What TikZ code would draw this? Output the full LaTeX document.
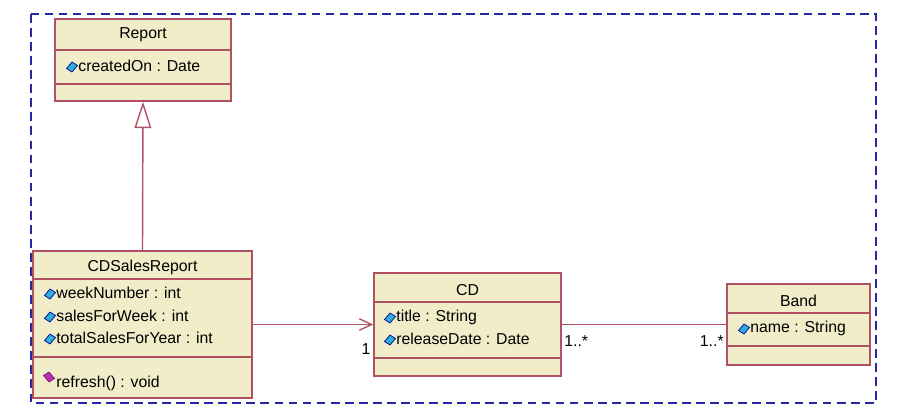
\documentclass[tikz,border=0pt]{standalone}
\usepackage{fontspec}
\setmainfont{Liberation Sans}
\usetikzlibrary{arrows.meta}

\definecolor{clsfill}{RGB}{241,237,201}
\definecolor{clsborder}{RGB}{176,82,98}
\definecolor{framecol}{RGB}{38,38,168}
\definecolor{attrcol}{RGB}{45,175,215}
\definecolor{opcol}{RGB}{185,45,185}

\tikzset{
  cls/.style={draw=clsborder, fill=clsfill, line width=0.8pt, inner sep=0pt},
  divider/.style={draw=clsborder, line width=0.8pt},
  txt/.style={font=\fontsize{9}{11}\selectfont, inner sep=0pt},
  member/.style={txt, anchor=west},
  assoc/.style={draw=clsborder, line width=0.8pt},
  attricon/.pic={\filldraw[draw=blue!60!black, fill=attrcol, line width=0.4pt]
    (-5.5,1.5) -- (0,-5) -- (5.5,-1.5) -- (0,5) -- cycle;},
  opicon/.pic={\filldraw[draw=opcol!60!black, fill=opcol, line width=0.4pt]
    (-5.5,-1.5) -- (0,-5) -- (5.5,1.5) -- (0,5) -- cycle;}
}

\begin{document}
\begin{tikzpicture}[x=0.02cm, y=-0.02cm]
        \useasboundingbox (0,0) rectangle (906,410);
        \draw[framecol, dash pattern=on 5pt off 3pt, line width=0.9pt] (31,14) rectangle (876,403);

        % classes
        \node[cls, minimum width=3.52cm, minimum height=1.64cm] (report) at (143,60) {};
        \node[cls, minimum width=4.38cm, minimum height=2.94cm] (cdsr) at (142.5,324.5) {};
        \node[cls, minimum width=3.74cm, minimum height=2.06cm] (cd) at (467.5,324.5) {};
        \node[cls, minimum width=2.86cm, minimum height=1.62cm] (band) at (798.5,324.5) {};

        \draw[divider] (report.west |- 0,50) -- (report.east |- 0,50);
        \draw[divider] (report.west |- 0,84) -- (report.east |- 0,84);
        \draw[divider] (cdsr.west |- 0,279) -- (cdsr.east |- 0,279);
        \draw[divider] (cdsr.west |- 0,357) -- (cdsr.east |- 0,357);
        \draw[divider] (cd.west |- 0,302) -- (cd.east |- 0,302);
        \draw[divider] (cd.west |- 0,358) -- (cd.east |- 0,358);
        \draw[divider] (band.west |- 0,313) -- (band.east |- 0,313);
        \draw[divider] (band.west |- 0,346) -- (band.east |- 0,346);

        % names and members
        \node[txt] (report-name) at (143,35) {Report};
        \pic at (72,67) {attricon};
        \node[member] (report-created) at (78,66) {createdOn : Date};

        \node[txt] (cdsr-name) at (142.5,267) {CDSalesReport};
        \foreach \y/\t [count=\i] in {293/weekNumber : int, 316/salesForWeek : int, 338/totalSalesForYear : int} {
                \pic at (50,\y+1) {attricon};
                \node[member] (cdsr-a\i) at (56,\y) {\t};
        }
        \pic at (49,377) {opicon};
        \node[member] (cdsr-refresh) at (56,383) {refresh() : void};

        \node[txt] (cd-name) at (467.5,290) {CD};
        \pic at (390,318) {attricon};
        \node[member] (cd-title) at (396,317) {title : String};
        \pic at (390,340) {attricon};
        \node[member] (cd-release) at (396,339) {releaseDate : Date};

        \node[txt] (band-name) at (798.5,301) {Band};
        \pic at (744,329) {attricon};
        \node[member] (band-title) at (750,328) {name : String};

        % relations
        \draw[assoc, -{Triangle[open, length=15pt, width=9.5pt]}] (cdsr.north) -- (report.south);
        \draw[assoc, -{Straight Barb[length=7pt, width=6.5pt]}] (cdsr.east) -- (cd.west);
        \draw[assoc] (cd.east) -- (band.west);

        \node[txt] (m-cd) at (366,349) {1};
        \node[txt, anchor=west] (m-cd-band) at (564,341) {1..*};
        \node[txt, anchor=east] (m-band) at (724,341) {1..*};
\end{tikzpicture}
\end{document}
